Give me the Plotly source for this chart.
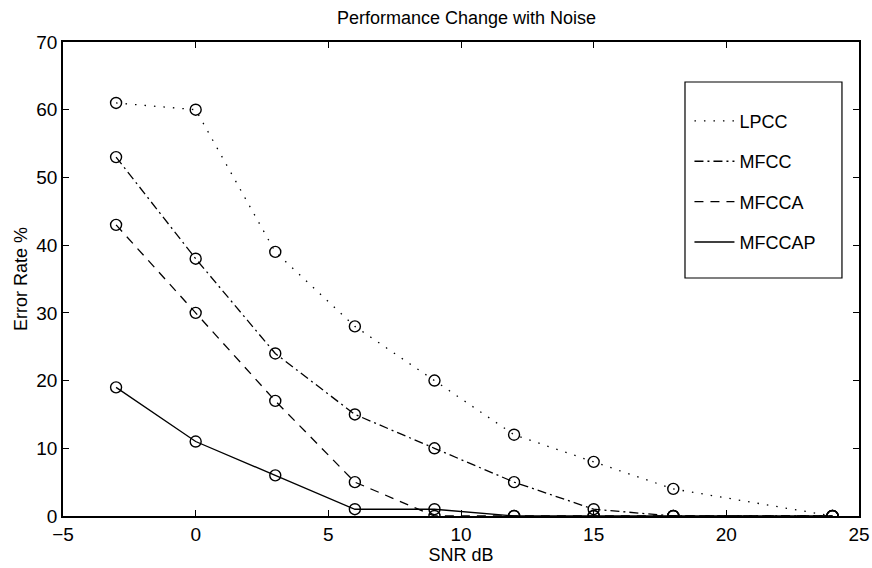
import plotly.graph_objects as go

snr = [-3, 0, 3, 6, 9, 12, 15, 18, 24]
lpcc = [61, 60, 39, 28, 20, 12, 8, 4, 0]
mfcc = [53, 38, 24, 15, 10, 5, 1, 0, 0]
mfcca = [43, 30, 17, 5, 0, 0, 0, 0, 0]
mfccap = [19, 11, 6, 1, 1, 0, 0, 0, 0]

series = [("LPCC", lpcc, "1.5px,8px"), ("MFCC", mfcc, "9px,4px,2px,4px"),
          ("MFCCA", mfcca, "9px,7px"), ("MFCCAP", mfccap, "solid")]

fig = go.Figure()
for name, ys, dash in series:
    fig.add_trace(go.Scatter(
        x=snr, y=ys, name=name, mode="lines+markers", showlegend=False,
        line=dict(color="black", width=1.3, dash=dash),
        marker=dict(symbol="circle-open", size=11, color="black", line=dict(width=1.4)),
    ))
# legend-only entries (lines without markers)
for name, ys, dash in series:
    fig.add_trace(go.Scatter(
        x=[None], y=[None], name=name, mode="lines", legendgroup=name,
        line=dict(color="black", width=1.5 if dash == "solid" else 1.3, dash=dash),
    ))

axis_common = dict(showgrid=False, zeroline=False, showline=True, linecolor="black",
                   linewidth=1.5, mirror="ticks", ticks="inside", ticklen=6,
                   tickcolor="black", tickfont=dict(size=19, color="black"))
fig.update_xaxes(range=[-5, 25], dtick=5, title=dict(text="SNR dB", font=dict(size=18), standoff=0),
                 **axis_common)
fig.update_yaxes(range=[0, 70], dtick=10, title=dict(text="Error Rate %", font=dict(size=18), standoff=4),
                 **axis_common)

# legend box
fig.add_shape(type="rect", xref="paper", yref="paper",
              x0=0.7814, x1=0.9786, y0=0.5021, y1=0.9156,
              line=dict(color="black", width=1.2), fillcolor="white", layer="above")

fig.update_layout(
    width=872, height=568,
    margin=dict(l=63, r=13, t=42, b=52, autoexpand=False),
    paper_bgcolor="white", plot_bgcolor="white",
    font=dict(family="Liberation Sans, Arial, sans-serif", color="black"),
    title=dict(text="Performance Change with Noise", x=0.535, xanchor="center",
               y=0.968, yanchor="middle", font=dict(size=18)),
    legend=dict(x=0.787, y=0.872, xanchor="left", yanchor="top",
                borderwidth=0, bgcolor="rgba(0,0,0,0)",
                font=dict(size=18), itemwidth=40, tracegroupgap=14),
    showlegend=True,
)
fig.write_html("out.html")
